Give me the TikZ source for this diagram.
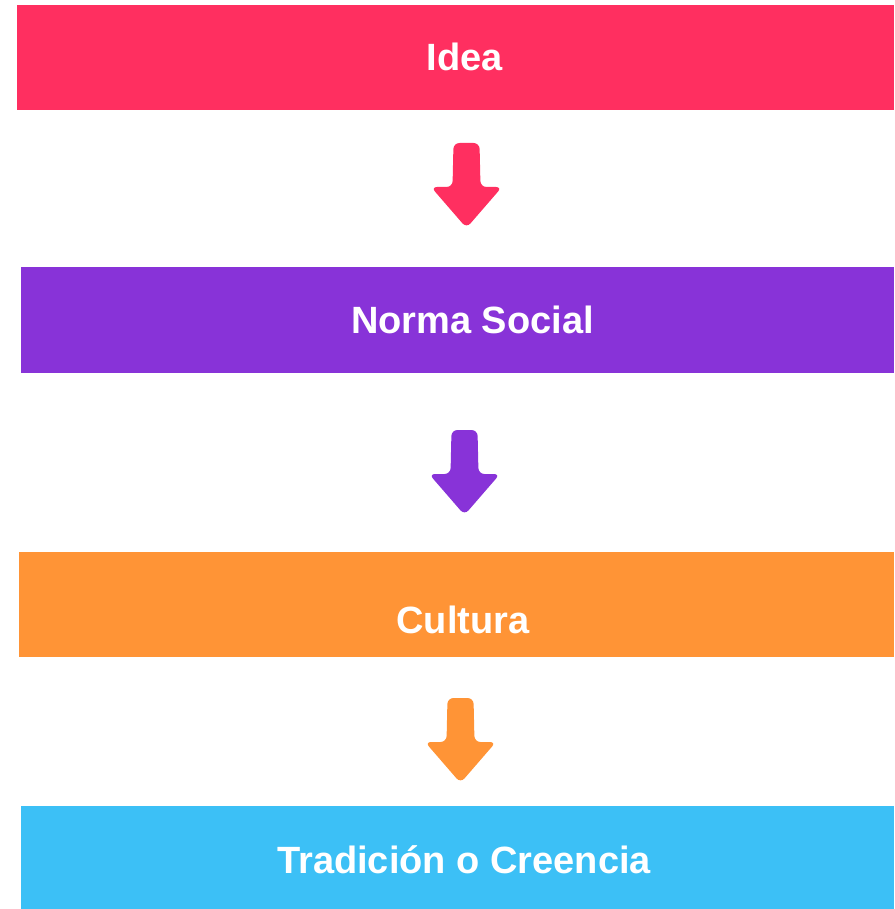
\documentclass[tikz,border=0pt]{standalone}
\usepackage{fontspec}
\setmainfont{Liberation Sans}
\definecolor{ideapink}{HTML}{FF2F60}
\definecolor{normapurple}{HTML}{8833D8}
\definecolor{culturaorange}{HTML}{FF9436}
\definecolor{tradicionblue}{HTML}{3CC0F6}
\tikzset{
    band/.style={fill=#1, draw=none, inner sep=0pt, anchor=north west},
    bandtext/.style={text=white, font=\fontsize{38}{40}\selectfont\bfseries, anchor=base, inner sep=0pt},
    downarrow/.pic={\fill[rounded corners=6pt] (-13,0) -- (13,0) -- (14,44) -- (35.5,44) -- (0,85) -- (-35.5,44) -- (-14,44) -- cycle;}
}
\begin{document}
\begin{tikzpicture}[x=1pt, y=-1pt]
    \useasboundingbox (0,0) rectangle (894,909);

    % Bands
    \node[band=ideapink, minimum width=877pt, minimum height=105pt] (idea) at (17,5) {};
    \node[band=normapurple, minimum width=873pt, minimum height=106pt] (norma) at (21,267) {};
    \node[band=culturaorange, minimum width=875pt, minimum height=105pt] (cultura) at (19,552) {};
    \node[band=tradicionblue, minimum width=873pt, minimum height=103pt] (tradicion) at (21,806) {};

    % Labels
    \node[bandtext] (idea-t) at (464.5,71) {Idea};
    \node[bandtext] (norma-t) at (472.5,333) {Norma Social};
    \node[bandtext] (cultura-t) at (463,633) {Cultura};
    \node[bandtext] (tradicion-t) at (464,873) {Tradición o Creencia};

    % Arrows between bands
    \coordinate (a1) at (466.5,143);
    \coordinate (a2) at (464.5,430);
    \coordinate (a3) at (460.5,698);
    \pic[color=ideapink] at (a1) {downarrow};
    \pic[color=normapurple] at (a2) {downarrow};
    \pic[color=culturaorange] at (a3) {downarrow};

\end{tikzpicture}
\end{document}
